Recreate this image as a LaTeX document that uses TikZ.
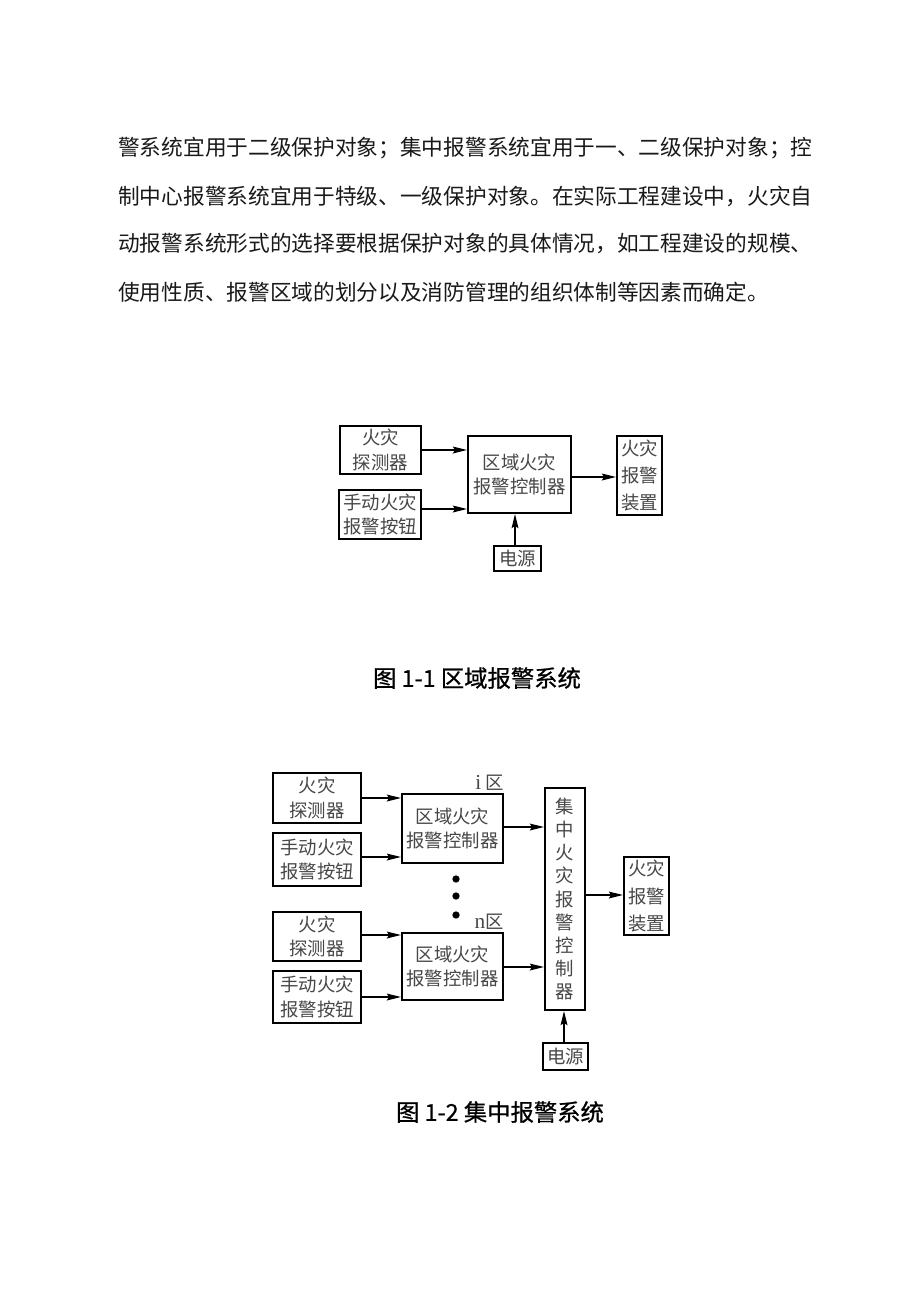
\documentclass[tikz,border=0pt]{standalone}
\usepackage{fontspec}
\setmainfont{Noto Sans CJK SC}
\newfontfamily\lserif{Liberation Serif}
\newfontfamily\capfont[FakeBold=0.8]{Noto Sans CJK SC}
\usetikzlibrary{arrows.meta}
\tikzset{
  box/.style={draw, line width=1.5pt, inner sep=0pt, text=black!72, align=center,
              font=\fontsize{13.8}{18.2}\selectfont},
  sz/.style 2 args={minimum width=#1*0.75pt, minimum height=#2*0.75pt},
  arr/.style={line width=1.5pt, -{Stealth[length=10.5pt,width=5pt,inset=1.5pt]}},
  body/.style={anchor=west, inner sep=0pt, text=black!90, font=\fontsize{16.27}{20}\selectfont},
  captxt/.style={inner sep=0pt, text=black, font=\capfont\fontsize{17.5}{20}\selectfont},
  zone/.style={inner sep=0pt, text=black!72, font=\fontsize{13.8}{16}\selectfont},
  dotm/.style={circle, fill=black, inner sep=0pt, minimum size=5.5pt}
}
\begin{document}
\begin{tikzpicture}[x=0.75pt,y=-0.75pt]
\useasboundingbox[fill=white] (0,0) rectangle (920,1302);

% body text
\node[body] (l1) at (118,148) {警系统宜用于二级保护对象；集中报警系统宜用于一、二级保护对象；控};
\node[body] (l2) at (118,196) {制中心报警系统宜用于特级、一级保护对象。在实际工程建设中，火灾自};
\node[body] (l3) at (118,244) {动报警系统形式的选择要根据保护对象的具体情况，如工程建设的规模、};
\node[body] (l4) at (118,292) {使用性质、报警区域的划分以及消防管理的组织体制等因素而确定。};

% ---------- figure 1-1 ----------
\node[box, sz={81}{48}] (det) at (380.5,450) {火灾\\探测器};
\node[box, sz={82}{49}] (btn) at (380,514.5) {手动火灾\\报警按钮};
\node[box, sz={103}{77}] (ctrl) at (519.5,474.5) {区域火灾\\报警控制器};
\node[box, sz={45}{79}, font=\fontsize{13.8}{20.3}\selectfont] (alarm) at (639.5,475.5) {火灾\\报警\\装置};
\node[box, sz={47}{25}] (pwr) at (517.5,558.5) {电源};

\draw[arr] (det.east) -- (ctrl.west |- det.east);
\draw[arr] (btn.east |- 0,509) -- (ctrl.west |- 0,509);
\draw[arr] (ctrl.east |- 0,477) -- (alarm.west |- 0,477);
\coordinate (p1) at (515,546);
\draw[arr] (p1) -- (ctrl.south -| p1);

\node[captxt] (cap1) at (477,678) {图 1-1 区域报警系统};

% ---------- figure 1-2 ----------
\node[box, sz={88}{50}] (det1) at (317,798) {火灾\\探测器};
\node[box, sz={88}{53}] (btn1) at (317,859.5) {手动火灾\\报警按钮};
\node[box, sz={101}{69}] (ctrl1) at (452.5,828.5) {区域火灾\\报警控制器};
\node[box, sz={88}{49}] (det2) at (317,936.5) {火灾\\探测器};
\node[box, sz={88}{52}] (btn2) at (317,997) {手动火灾\\报警按钮};
\node[box, sz={101}{67}] (ctrl2) at (452.5,966.5) {区域火灾\\报警控制器};
\node[box, sz={40}{222}, font=\fontsize{13.8}{17.4}\selectfont] (central) at (565,899)
  {集\\中\\火\\灾\\报\\警\\控\\制\\器};
\node[box, sz={45}{78}, font=\fontsize{13.8}{20.3}\selectfont] (alarm2) at (646.5,896) {火灾\\报警\\装置};
\node[box, sz={45}{27}] (pwr2) at (565.5,1056.5) {电源};

\node[zone, anchor=south east] (zi) at ([yshift=1.5pt]ctrl1.north east) {{\lserif\fontsize{16}{16}\selectfont i}\hspace{3pt}区};
\node[zone, anchor=south east] (zn) at ([yshift=1.5pt]ctrl2.north east) {{\lserif\fontsize{16}{16}\selectfont n}区};

\node[dotm] (d1) at (456,879) {};
\node[dotm] (d2) at (456,896) {};
\node[dotm] (d3) at (456,915) {};

\draw[arr] (det1.east) -- (ctrl1.west |- det1.east);
\draw[arr] (btn1.east |- 0,857) -- (ctrl1.west |- 0,857);
\draw[arr] (det2.east |- 0,935) -- (ctrl2.west |- 0,935);
\draw[arr] (btn2.east |- 0,997) -- (ctrl2.west |- 0,997);
\draw[arr] (ctrl1.east |- 0,827) -- (central.west |- 0,827);
\draw[arr] (ctrl2.east |- 0,967) -- (central.west |- 0,967);
\draw[arr] (central.east |- 0,895) -- (alarm2.west |- 0,895);
\coordinate (p2) at (564,1043);
\draw[arr] (p2) -- (central.south -| p2);

\node[captxt] (cap2) at (500,1112) {图 1-2 集中报警系统};
\end{tikzpicture}
\end{document}
